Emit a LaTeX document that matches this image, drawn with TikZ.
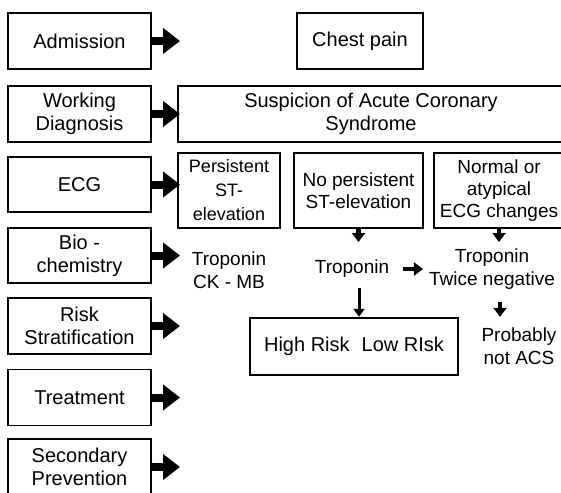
\documentclass[tikz,border=0pt]{standalone}
\usepackage{fontspec}
\setmainfont{Liberation Sans}
\usetikzlibrary{arrows.meta}

\begin{document}
\begin{tikzpicture}[x=1pt, y=-1pt,
  box/.style={draw, line width=1.3pt, align=center, inner sep=0pt, minimum width=143pt, minimum height=56pt},
  thickbox/.style={box, line width=2.4pt, font=\fontsize{19}{22}\selectfont},
  txt/.style={align=center, inner sep=0pt, font=\fontsize{19}{23}\selectfont},
  fat/.style={line width=8pt, -{Triangle[length=17pt,width=25pt]}},
  small/.style={line width=4.5pt, -{Triangle[length=9pt,width=13pt]}},
  thinarrow/.style={line width=3pt, -{Triangle[length=8pt,width=11pt]}},
  every node/.style={font=\fontsize{20}{23}\selectfont}]

  \useasboundingbox (0,0) rectangle (561,492);
  \clip (0,0) rectangle (561,492);

  % Left column: stages
  \node[box] (adm) at (79.5,41) {Admission};
  \node[box] (wd) at (79.5,114) {Working\\Diagnosis};
  \node[box, minimum height=55pt] (ecg) at (79.5,184.5) {ECG};
  \node[box, minimum height=55pt] (bio) at (79.5,255.5) {Bio -\\chemistry};
  \node[box] (risk) at (79.5,326) {Risk\\Stratification};
  \node[box] (treat) at (79.5,397.5) {Treatment};
  \node[box] (sec) at (79.5,467) {Secondary\\Prevention};

  % Right part: clinical path
  \node[box, minimum width=126pt] (chest) at (360,41) {Chest pain};
  \node[box, minimum width=386pt] (acs) at (371,114) {Suspicion of Acute Coronary\\Syndrome};
  \node[thickbox, minimum width=102pt, minimum height=75pt, font=\fontsize{18}{24}\selectfont] (stel) at (229,190.5) {Persistent\\ST-\\elevation};
  \node[thickbox, minimum width=129pt, minimum height=75pt] (nost) at (358.5,190.5) {No persistent\\ST-elevation};
  \node[thickbox, minimum width=130pt, minimum height=75pt] (norm) at (499,190.5) {Normal or\\atypical\\ECG changes};

  \node[txt] (ckmb) at (229,270) {Troponin\\CK - MB};
  \node[txt] (trop) at (352,269) {Troponin};
  \node[txt] (neg) at (492,269.5) {Troponin\\Twice negative};
  \node[thickbox, minimum width=208pt, minimum height=57pt, font=\fontsize{20}{23}\selectfont] (hl) at (354,346.5) {High Risk\hspace{12pt}Low RIsk};
  \node[txt] (nacs) at (519,346.5) {Probably\\not ACS};

  % Arrow ends
  \coordinate (tipx) at (180,0);
  \coordinate (row) at (0,242);
  \coordinate (a3) at (359,288);
  \coordinate (a4) at (500,302);

  % Stage arrows
  \foreach \n in {adm,wd,ecg,bio,risk,treat,sec}
    \draw[fat] (\n.east) -- (\n.east -| tipx);

  % Path arrows
  \draw[small] (nost.south) -- (nost.south |- row);
  \draw[small] (norm.south) -- (norm.south |- row);
  \draw[small, shorten <=14pt, shorten >=6pt] (trop.east) -- (trop.east -| neg.west);
  \draw[thinarrow] (a3) -- (a3 |- hl.north);
  \draw[small] (a4) -- (a4 |- hl.north);

\end{tikzpicture}
\end{document}
